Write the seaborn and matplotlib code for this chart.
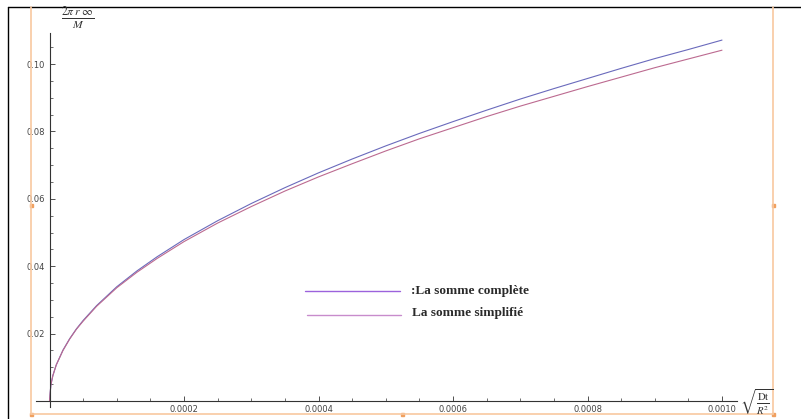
import numpy as np
import pandas as pd
import matplotlib
matplotlib.use("Agg")
import matplotlib.pyplot as plt
import seaborn as sns
from matplotlib.lines import Line2D
from matplotlib.patches import Rectangle

# valeurs
x_vals = [0, 0.000002, 0.000005, 0.00001, 0.00002, 0.00003, 0.00004, 0.00005,
          0.00007, 0.0001, 0.00013, 0.00016, 0.0002, 0.00025, 0.0003, 0.00035,
          0.0004, 0.00045, 0.0005, 0.00055, 0.0006, 0.00065, 0.0007, 0.00075,
          0.0008, 0.00085, 0.0009, 0.00095, 0.001]
somme_complete = [0, 0.0048, 0.00757, 0.0107, 0.0151, 0.0185, 0.0214, 0.0239,
                  0.0283, 0.0339, 0.0386, 0.0428, 0.0479, 0.0535, 0.0586, 0.0633,
                  0.0677, 0.0718, 0.0757, 0.0794, 0.0829, 0.0863, 0.0896, 0.0927,
                  0.0957, 0.0987, 0.1016, 0.1043, 0.1071]
somme_simplifiee = [0, 0.0048, 0.00756, 0.0107, 0.0150, 0.0184, 0.0213, 0.0237,
                    0.0281, 0.0336, 0.0382, 0.0423, 0.0473, 0.0528, 0.0577, 0.0623,
                    0.0665, 0.0704, 0.0742, 0.0778, 0.0811, 0.0844, 0.0875, 0.0904,
                    0.0933, 0.0961, 0.0989, 0.1015, 0.1041]

x_ticks = [0.0002, 0.0004, 0.0006, 0.0008, 0.0010]
x_labels = ["0.0002", "0.0004", "0.0006", "0.0008", "0.0010"]
y_ticks = [0.02, 0.04, 0.06, 0.08, 0.10]
y_labels = ["0.02", "0.04", "0.06", "0.08", "0.10"]

df = pd.DataFrame({"x": x_vals, "complete": somme_complete,
                   "simplifie": somme_simplifiee})

sns.set_style("white")
plt.rcParams["font.family"] = ["DejaVu Sans"]
plt.rcParams["mathtext.fontset"] = "stix"

fig = plt.figure(figsize=(8.01, 4.19), dpi=100)
ax = fig.add_axes([36 / 801, 1 - 407 / 419, 701 / 801, 374 / 419])
ax.patch.set_alpha(0)

sns.lineplot(data=df, x="x", y="complete", ax=ax, color="#6a6abc", linewidth=0.8)
sns.lineplot(data=df, x="x", y="simplifie", ax=ax, color="#bc6a90", linewidth=0.8)

ax.set_xlim(-0.0000201, 0.0010223)
ax.set_ylim(-0.00178, 0.1092)
ax.set_xlabel("")
ax.set_ylabel("")

# axes façon Mathematica, croisés à l'origine
for s in ["top", "right"]:
    ax.spines[s].set_visible(False)
ax.spines["left"].set_position(("data", 0))
ax.spines["bottom"].set_position(("data", 0))
for s in ["left", "bottom"]:
    ax.spines[s].set_color("#333333")
    ax.spines[s].set_linewidth(0.8)

ax.set_xticks(x_ticks)
ax.set_xticklabels(x_labels)
ax.set_yticks(y_ticks)
ax.set_yticklabels(y_labels)
ax.set_xticks(np.arange(0.00005, 0.00101, 0.00005), minor=True)
ax.set_yticks(np.arange(0.005, 0.1051, 0.005), minor=True)
ax.tick_params(axis="both", which="major", direction="in", length=3.5, width=0.6,
               color="#333333", labelsize=6, labelcolor="#444444", pad=3)
ax.tick_params(axis="both", which="minor", direction="in", length=2, width=0.5,
               color="#333333")
ax.tick_params(axis="x", which="both", bottom=True)
ax.tick_params(axis="y", which="both", left=True)

# libellés des axes
fig.text(78 / 801, 1 - 18 / 419, r"$\frac{2\pi\, r\ \infty}{M}$", fontsize=12,
         ha="center", va="center", color="#333333")
fig.text(757 / 801, 1 - 402 / 419, r"$\sqrt{\frac{\mathrm{Dt}}{R^2}}$", fontsize=11,
         ha="center", va="center", color="#333333")

# légende dessinée à part
fig.add_artist(Line2D([305 / 801, 400 / 801], [1 - 291 / 419, 1 - 291 / 419],
                      color="#9c62dc", linewidth=1.0))
fig.add_artist(Line2D([307 / 801, 401 / 801], [1 - 315 / 419, 1 - 315 / 419],
                      color="#c88ccc", linewidth=1.0))
fig.text(411 / 801, 1 - 291 / 419, ":La somme complète", fontsize=9.5,
         family=["Liberation Serif"], weight="bold", color="#2a2a2a", va="center")
fig.text(412 / 801, 1 - 313 / 419, "La somme simplifié", fontsize=9.5,
         family=["Liberation Serif"], weight="bold", color="#2a2a2a", va="center")

# cadres de la page
fig.add_artist(Line2D([8 / 801, 1], [1 - 7 / 419, 1 - 7 / 419], color="black", linewidth=1.0))
fig.add_artist(Line2D([8 / 801, 8 / 801], [0, 1 - 7 / 419], color="black", linewidth=1.0))
orange = "#f8c8a0"
fig.add_artist(Line2D([31 / 801, 31 / 801], [1 - 414 / 419, 1 - 7 / 419], color=orange, linewidth=1.2))
fig.add_artist(Line2D([773 / 801, 773 / 801], [1 - 414 / 419, 1 - 7 / 419], color=orange, linewidth=1.2))
fig.add_artist(Line2D([31 / 801, 773 / 801], [1 - 414 / 419, 1 - 414 / 419], color=orange, linewidth=1.2))
for (hx, hy) in [(31, 206), (773, 206), (402, 414), (31, 414), (773, 414)]:
    fig.add_artist(Rectangle(((hx - 1.5) / 801, 1 - (hy + 1.5) / 419), 3 / 801, 3 / 419,
                             color="#f0a060", transform=fig.transFigure))

fig.savefig("out.png", dpi=100)
